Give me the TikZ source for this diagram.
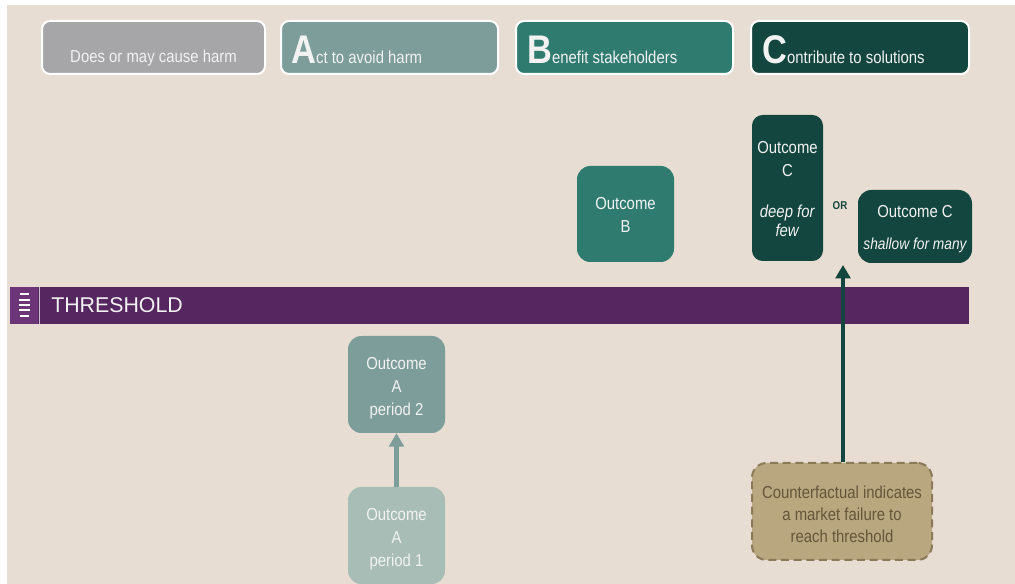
\documentclass[tikz,border=0pt]{standalone}
\usepackage{fontspec}
\setmainfont{Liberation Sans}[FakeStretch=0.86]
\newfontfamily\widefont{Liberation Sans}
\usetikzlibrary{arrows.meta}
\newdimen\pxu \pxu=0.75pt
\newcommand\bigletter[1]{{\fontsize{30}{30}\selectfont\bfseries #1}}
\definecolor{bgc}{HTML}{E7DDD2}
\definecolor{greyc}{HTML}{A6A6A8}
\definecolor{tealA}{HTML}{7C9D9A}
\definecolor{tealB}{HTML}{2F7B70}
\definecolor{darkC}{HTML}{13463F}
\definecolor{tealP}{HTML}{A7BDB5}
\definecolor{purp}{HTML}{55265F}
\definecolor{purpicon}{HTML}{6B3577}
\definecolor{cffill}{HTML}{B8A77F}
\definecolor{cfdraw}{HTML}{8A7A58}
\definecolor{cftext}{HTML}{665639}
\definecolor{txt}{HTML}{F2F2F2}
\begin{document}
\begin{tikzpicture}[x=0.75pt,y=-0.75pt,
  topbox/.style={draw=white, line width=1.5pt, rounded corners=6pt, inner sep=0pt, minimum height=53\pxu},
  toptext/.style={anchor=base west, inner sep=0pt, text=txt, font=\fontsize{13}{15}\selectfont},
  outbox/.style={rounded corners=10pt, inner sep=0pt},
  outtext/.style={inner sep=0pt, text=txt, align=center, font=\fontsize{13}{17.25}\selectfont}]
\useasboundingbox (0,0) rectangle (1015,584);
\fill[white] (0,0) rectangle (1015,584);
\fill[bgc] (7,5) rectangle (1015,584);

% top boxes
\node[topbox, fill=greyc, minimum width=223\pxu] (h0) at (153.5,47.5) {};
\node[topbox, fill=tealA, minimum width=217\pxu] (h1) at (389.5,47.5) {};
\node[topbox, fill=tealB, minimum width=217\pxu] (h2) at (624.5,47.5) {};
\node[topbox, fill=darkC, minimum width=218\pxu] (h3) at (860,47.5) {};
\node[toptext, anchor=base] (t0) at (153.5,63) {Does or may cause harm};
\node[toptext] (t1) at (291,64) {\bigletter{A}ct to avoid harm};
\node[toptext] (t2) at (527,64) {\bigletter{B}enefit stakeholders};
\node[toptext] (t3) at (762,64) {\bigletter{C}ontribute to solutions};

% threshold
\fill[purp] (10,287) rectangle (969,324);
\fill[purpicon] (10,287) rectangle (38,324);
\draw[white!70!purp, line width=0.8pt] (39.5,287) -- (39.5,324);
\foreach \yy/\xa/\xb in {294/20/29, 300/19/30, 305/19/30, 310/19/30, 316/20/29}
  \draw[white, line width=1.4pt] (\xa,\yy) -- (\xb,\yy);
\node[anchor=base west, inner sep=0pt, text=txt, font=\widefont\fontsize{16}{18}\selectfont] (thr) at (51,313) {THRESHOLD};

% outcomes
\node[outbox, fill=tealB, minimum width=97\pxu, minimum height=96\pxu] (ob) at (625.5,214) {};
\node[outtext] (obt) at (625.5,215) {Outcome\\B};
\node[outbox, fill=darkC, minimum width=71\pxu, minimum height=146\pxu, rounded corners=8pt] (ocd) at (787.5,188) {};
\node[outtext] (ocdt) at (787.5,189) {Outcome\\C\\[13.5pt]\textit{deep for}\\[-3pt]\textit{few}};
\node[inner sep=0pt, text=darkC, font=\fontsize{8.5}{10}\selectfont\bfseries] (or) at (840,206) {OR};
\node[outbox, fill=darkC, minimum width=114\pxu, minimum height=73\pxu] (ocs) at (915,226.5) {};
\node[outtext] (ocst) at (915,229) {Outcome C\\[7pt]{\fontsize{12}{14}\selectfont\itshape shallow for many}};
\node[outbox, fill=tealA, minimum width=97\pxu, minimum height=97\pxu] (oa2) at (396.5,384.5) {};
\node[outtext] (oa2t) at (396.5,388) {Outcome\\A\\period 2};
\node[outbox, fill=tealP, minimum width=97\pxu, minimum height=97\pxu] (oa1) at (396.5,535.5) {};
\node[outtext] (oa1t) at (396.5,539) {Outcome\\A\\period 1};
\node[outbox, fill=cffill, draw=cfdraw, dash pattern=on 6pt off 3.5pt, line width=1.5pt, minimum width=180\pxu, minimum height=97\pxu, rounded corners=11pt] (cf) at (842,511.5) {};
\node[outtext, text=cftext, font=\fontsize{13}{16.5}\selectfont] (cft) at (842,514) {Counterfactual indicates\\a market failure to\\reach threshold};

% arrows
\coordinate (tip) at (843,265);
\draw[darkC, line width=3pt, -{Triangle[width=11pt,length=10pt]}] (cf.north -| tip) -- (tip);
\draw[tealA, line width=3.5pt, -{Triangle[width=11pt,length=10pt]}] (oa1.north) -- (oa2.south);
\end{tikzpicture}
\end{document}
